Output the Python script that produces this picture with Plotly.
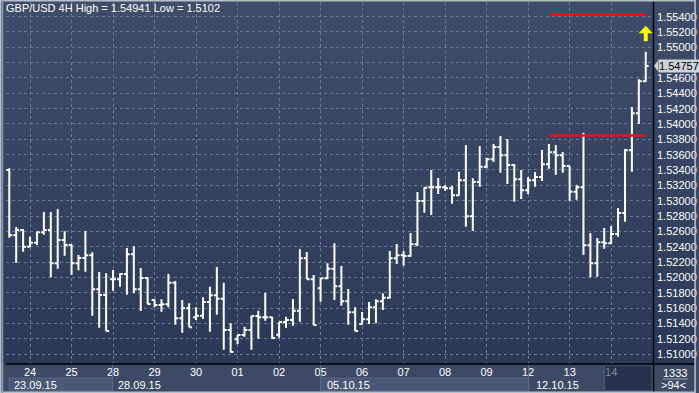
import plotly.graph_objects as go

# ---------------- data (GBP/USD 4H bars) ----------------
bar_index = list(range(93))
opens = [1.53400, 1.52548, 1.52617, 1.52400, 1.52452, 1.52587, 1.52617, 1.52183, 1.52487, 1.52422,
         1.52183, 1.52252, 1.52287, 1.51843, 1.51770, 1.51974, 1.51974, 1.52043, 1.52300, 1.51843,
         1.51991, 1.51704, 1.51639, 1.51650, 1.51930, 1.51465, 1.51596, 1.51478, 1.51500, 1.51678,
         1.51765, 1.51722, 1.51313, 1.51191, 1.51248, 1.51313, 1.51496, 1.51478, 1.51478, 1.51252,
         1.51417, 1.51443, 1.51565, 1.52248, 1.51974, 1.51857, 1.51987, 1.52113, 1.51883, 1.51687,
         1.51543, 1.51391, 1.51452, 1.51609, 1.51687, 1.51735, 1.52248, 1.52287, 1.52278, 1.52430,
         1.52996, 1.53174, 1.53174, 1.53174, 1.53161, 1.53070, 1.53265, 1.52796, 1.53243, 1.53443,
         1.53539, 1.53700, 1.53591, 1.53465, 1.53278, 1.53135, 1.53265, 1.53309, 1.53474, 1.53630,
         1.53591, 1.53452, 1.53117, 1.53174, 1.52417, 1.52183, 1.52457, 1.52443, 1.52565, 1.52839,
         1.53657, 1.54139, 1.54557]
highs = [1.53422, 1.52657, 1.52626, 1.52530, 1.52596, 1.52852, 1.52852, 1.52891, 1.52600, 1.52430,
         1.52291, 1.52604, 1.52326, 1.52070, 1.52052, 1.52096, 1.52052, 1.52383, 1.52404, 1.52122,
         1.52000, 1.51713, 1.51713, 1.52043, 1.51952, 1.51704, 1.51661, 1.51609, 1.51739, 1.51878,
         1.52135, 1.51930, 1.51400, 1.51248, 1.51357, 1.51496, 1.51565, 1.51796, 1.51487, 1.51417,
         1.51487, 1.51717, 1.52370, 1.52330, 1.52030, 1.51987, 1.52183, 1.52443, 1.52148, 1.51848,
         1.51609, 1.51548, 1.51678, 1.51713, 1.51791, 1.52343, 1.52435, 1.52343, 1.52578, 1.53113,
         1.53174, 1.53400, 1.53296, 1.53200, 1.53191, 1.53378, 1.53726, 1.53291, 1.53713, 1.53561,
         1.53739, 1.53843, 1.53804, 1.53478, 1.53400, 1.53309, 1.53374, 1.53661, 1.53739, 1.53726,
         1.53635, 1.53452, 1.53204, 1.53887, 1.52578, 1.52513, 1.52643, 1.52670, 1.52904, 1.53674,
         1.54222, 1.54583, 1.54941]
lows = [1.52517, 1.52191, 1.52335, 1.52391, 1.52422, 1.52557, 1.52000, 1.52113, 1.52283, 1.52035,
        1.52091, 1.52074, 1.51500, 1.51343, 1.51296, 1.51826, 1.51878, 1.51774, 1.51791, 1.51561,
        1.51648, 1.51609, 1.51552, 1.51609, 1.51383, 1.51278, 1.51348, 1.51443, 1.51457, 1.51291,
        1.51513, 1.51057, 1.51020, 1.51130, 1.51226, 1.51057, 1.51200, 1.51435, 1.51200, 1.51213,
        1.51343, 1.51370, 1.51422, 1.51974, 1.51374, 1.51683, 1.51978, 1.51704, 1.51630, 1.51383,
        1.51296, 1.51383, 1.51391, 1.51400, 1.51574, 1.51722, 1.52174, 1.52152, 1.52270, 1.52409,
        1.52843, 1.52813, 1.53087, 1.53130, 1.52961, 1.53065, 1.52661, 1.52604, 1.53183, 1.53422,
        1.53509, 1.53365, 1.53217, 1.52987, 1.53022, 1.53087, 1.53183, 1.53257, 1.53417, 1.53339,
        1.53365, 1.53000, 1.53013, 1.52291, 1.52000, 1.52009, 1.52374, 1.52439, 1.52530, 1.52726,
        1.53378, 1.54000, 1.54552]
closes = [1.52548, 1.52617, 1.52400, 1.52452, 1.52587, 1.52617, 1.52183, 1.52487, 1.52422, 1.52183,
          1.52252, 1.52287, 1.51843, 1.51770, 1.51300, 1.51974, 1.52043, 1.52300, 1.51843, 1.51991,
          1.51652, 1.51639, 1.51650, 1.51930, 1.51465, 1.51596, 1.51350, 1.51500, 1.51678, 1.51765,
          1.51722, 1.51313, 1.51025, 1.51248, 1.51313, 1.51496, 1.51478, 1.51478, 1.51209, 1.51417,
          1.51443, 1.51565, 1.52248, 1.51974, 1.51378, 1.51987, 1.52113, 1.51883, 1.51687, 1.51543,
          1.51300, 1.51452, 1.51609, 1.51687, 1.51735, 1.52248, 1.52287, 1.52278, 1.52430, 1.52996,
          1.53170, 1.53174, 1.53174, 1.53161, 1.53070, 1.53265, 1.52796, 1.53243, 1.53443, 1.53539,
          1.53700, 1.53591, 1.53465, 1.53278, 1.53135, 1.53265, 1.53309, 1.53474, 1.53630, 1.53591,
          1.53452, 1.53117, 1.53174, 1.52417, 1.52183, 1.52457, 1.52443, 1.52565, 1.52839, 1.53657,
          1.54139, 1.54557, 1.54757]

day_tick_bars = [3, 9, 15, 21, 27, 33, 39, 45, 51, 57, 63, 69, 75, 81, 87]
day_tick_labels = ["24", "25", "28", "29", "30", "01", "02", "05", "06", "07", "08", "09", "12", "13", "14"]
week_labels = ["23.09.15", "28.09.15", "05.10.15", "12.10.15"]
price_ticks = [1.510 + 0.002 * k for k in range(23)]
level_prices = [1.5543, 1.5385]
level_bars = [78.1, 92.0]
last_price = 1.54757
arrow_bar = 92
arrow_tip, arrow_tail = 1.55278, 1.55082
title_text = "GBP/USD 4H High = 1.54941 Low = 1.5102"
corner_top, corner_bottom = "1333", ">94<"

# ---------------- layout geometry ----------------
W, H = 699, 393
ML, MR, MT, MB = 6, 43, 2, 29
PW = W - ML - MR
PH = H - MT - MB

def pxx(X):
    return (X - ML) / PW

def pyy(Y):
    return (H - MB - Y) / PH

FONT = "Liberation Sans Narrow, Arial Narrow, Liberation Sans, sans-serif"

fig = go.Figure()
fig.add_trace(go.Ohlc(
    x=bar_index, open=opens, high=highs, low=lows, close=closes,
    increasing=dict(line=dict(color="white", width=2)),
    decreasing=dict(line=dict(color="white", width=2)),
    tickwidth=0.42, hoverinfo="skip", showlegend=False,
))

for lv in level_prices:
    fig.add_trace(go.Scatter(
        x=level_bars, y=[lv, lv], mode="lines",
        line=dict(color="#e3141c", width=2.6), hoverinfo="skip", showlegend=False,
    ))

shapes = []
# gradient background of plot + right scale
top_c = (63, 76, 106)
bot_c = (44, 57, 87)
N = 40
for k in range(N):
    t = k / (N - 1)
    c = tuple(round(top_c[j] + (bot_c[j] - top_c[j]) * t) for j in range(3))
    y1 = 1 - k / N
    y0 = 1 - (k + 1) / N
    shapes.append(dict(type="rect", xref="paper", yref="paper", x0=pxx(0), x1=pxx(W), y0=y0 - 0.002,
                       y1=y1 + (0.02 if k == 0 else 0.002),
                       fillcolor="rgb(%d,%d,%d)" % c, line=dict(width=0), layer="below"))

# bottom date panel boxes
light_box = "#4a5776"
for (x0, x1) in [(9, 113), (322, 531)]:
    shapes.append(dict(type="rect", xref="paper", yref="paper", x0=pxx(x0), x1=pxx(x1), y0=pyy(391), y1=pyy(378),
                       fillcolor=light_box, line=dict(color="#5a6885", width=1), layer="below"))
for xs in [113, 322, 531]:
    shapes.append(dict(type="line", xref="paper", yref="paper", x0=pxx(xs), x1=pxx(xs), y0=pyy(391), y1=pyy(365),
                       line=dict(color="#5f6d8a", width=1)))
# dark "current day" box
shapes.append(dict(type="rect", xref="paper", yref="paper", x0=pxx(607), x1=pxx(655), y0=pyy(391), y1=pyy(365),
                   fillcolor="#27324e", line=dict(color="#56627c", width=1), layer="below"))
# separator line in corner
shapes.append(dict(type="line", xref="paper", yref="paper", x0=pxx(666), x1=pxx(691), y0=pyy(379), y1=pyy(379),
                   line=dict(color="#9aa3b4", width=1)))
# black axis lines
shapes.append(dict(type="line", xref="paper", yref="paper", x0=pxx(ML), x1=pxx(W), y0=pyy(364), y1=pyy(364),
                   line=dict(color="black", width=1.5)))
shapes.append(dict(type="line", xref="paper", yref="paper", x0=pxx(656.5), x1=pxx(656.5), y0=pyy(H), y1=pyy(0),
                   line=dict(color="black", width=1.5)))
# outer light frame
shapes.append(dict(type="rect", xref="paper", yref="paper", x0=pxx(0.7), x1=pxx(W - 0.7), y0=pyy(H - 0.7),
                   y1=pyy(0.7), line=dict(color="#b9c0cc", width=1.5)))
shapes.append(dict(type="line", xref="paper", yref="paper", x0=pxx(2.5), x1=pxx(2.5), y0=pyy(H), y1=pyy(0),
                   line=dict(color="#8795ad", width=1.5)))
# price pointer triangle
shapes.append(dict(type="path", xref="paper", yref="y",
                   path="M %f %f L %f %f L %f %f Z" % (pxx(657), last_price, pxx(661), last_price + 0.0007,
                                                      pxx(661), last_price - 0.0007),
                   fillcolor="#cfd2d6", line=dict(width=0)))
# yellow up arrow (head + stem), built from the arrow anchor values
head_base = arrow_tip - (arrow_tip - arrow_tail) * 0.47
hw, sw = 0.95, 0.25
arrow_path = ("M {x} {t} L {xr} {hb} L {sr} {hb} L {sr} {tl} L {sl} {tl} L {sl} {hb} L {xl} {hb} Z"
              .format(x=arrow_bar, t=arrow_tip, xr=arrow_bar + hw, xl=arrow_bar - hw, hb=head_base,
                      sr=arrow_bar + sw, sl=arrow_bar - sw, tl=arrow_tail))
shapes.append(dict(type="path", xref="x", yref="y", path=arrow_path, fillcolor="#ffff00",
                   line=dict(color="#ffff00", width=0.5)))

annotations = [
    dict(text=title_text, xref="paper", yref="paper", x=pxx(4), y=pyy(8), xanchor="left", yanchor="middle",
         showarrow=False, font=dict(family=FONT, size=11, color="white")),
    dict(text=f"{last_price:.5f}", xref="paper", yref="y", x=pxx(661), y=last_price, xanchor="left",
         yanchor="middle", showarrow=False, bgcolor="#cfd2d6", borderpad=0,
         font=dict(family=FONT, size=11, color="black")),
    dict(text=corner_top, xref="paper", yref="paper", x=pxx(678), y=pyy(372.5), xanchor="center",
         yanchor="middle", showarrow=False, font=dict(family=FONT, size=11, color="white")),
    dict(text=corner_bottom, xref="paper", yref="paper", x=pxx(677), y=pyy(385), xanchor="center",
         yanchor="middle", showarrow=False, font=dict(family=FONT, size=11, color="white")),
]
week_x_px = [12, 117, 326, 536]
for lab, xp in zip(week_labels, week_x_px):
    annotations.append(dict(text=lab, xref="paper", yref="paper", x=pxx(xp), y=pyy(384.5), xanchor="left",
                            yanchor="middle", showarrow=False, font=dict(family=FONT, size=11, color="white")))

# price scale labels; the one hidden behind the current-price box is left out
shown_ticks = [v for v in price_ticks if abs(v - last_price) > 0.001]
tick_text_x = day_tick_labels[:-1] + ["<span style='color:#7e899e'>%s</span>" % day_tick_labels[-1]]

fig.update_layout(
    width=W, height=H, margin=dict(l=ML, r=MR, t=MT, b=MB),
    paper_bgcolor="#3d4965", plot_bgcolor="rgba(0,0,0,0)",
    showlegend=False, hovermode=False,
    shapes=shapes, annotations=annotations,
    xaxis=dict(range=[-0.475, 93.05], rangeslider=dict(visible=False), tickvals=day_tick_bars,
               ticktext=tick_text_x, showgrid=True, gridcolor="#6b7b99", griddash="3px,3px", gridwidth=1,
               zeroline=False, showline=False, ticks="", tickfont=dict(family=FONT, size=11, color="white"),
               fixedrange=True),
    yaxis=dict(range=[1.508696, 1.555911], side="right", tickvals=shown_ticks,
               ticktext=[f"{v:.5f}" for v in shown_ticks], showgrid=False, zeroline=False, showline=False,
               ticks="", ticklabelstandoff=3, tickfont=dict(family=FONT, size=11, color="white"),
               fixedrange=True),
    yaxis2=dict(range=[1.508696, 1.555911], overlaying="y", side="right", tickvals=price_ticks,
                showticklabels=False, showgrid=True, gridcolor="#6b7b99", griddash="3px,3px", gridwidth=1,
                zeroline=False, showline=False, ticks="", fixedrange=True),
)
# invisible trace so the full price grid (including the hidden label level) is drawn
fig.add_trace(go.Scatter(x=[bar_index[0]], y=[closes[0]], yaxis="y2", mode="markers",
                         marker=dict(opacity=0), hoverinfo="skip", showlegend=False))

fig.write_html("out.html")
